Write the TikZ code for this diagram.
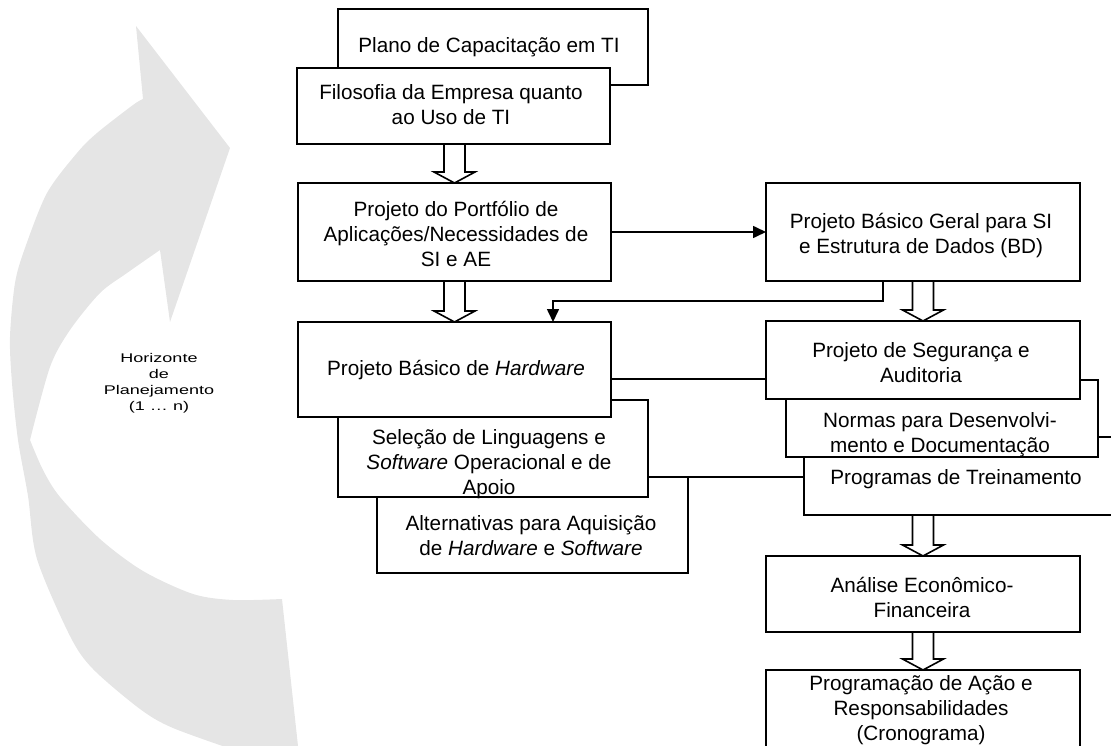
\documentclass[tikz,border=0pt]{standalone}
\usepackage{fontspec}
\setmainfont{Liberation Sans}
\usepackage{graphicx}
\usetikzlibrary{arrows.meta,calc,fit}
\definecolor{bandgray}{RGB}{229,229,229}
\tikzset{
  boxst/.style={draw=black, fill=white, line width=1.6pt, inner sep=0pt, outer sep=0pt},
  txt/.style={align=center, inner sep=0pt, font=\fontsize{20.7}{25}\selectfont},
  smalltxt/.style={inner sep=0pt, font=\fontsize{12.6}{16}\selectfont},
  link/.style={draw=black, line width=1.6pt},
  linkarrow/.style={link, -{Triangle[length=13pt,width=12pt]}},
  hollow/.style={draw=black, line width=1.6pt, line join=miter}
}
% open block arrow from the bottom of #1 to the top of #2
\newcommand{\hollowarrow}[2]{%
  \draw[hollow]
    ($(#1.south -| #2.north)+(-10.5,0)$) -- ($(#2.north)+(-10.5,-11)$)
    -- ($(#2.north)+(-20.5,-11)$) -- (#2.north)
    -- ($(#2.north)+(20.5,-11)$) -- ($(#2.north)+(10.5,-11)$)
    -- ($(#1.south -| #2.north)+(10.5,0)$);}
\begin{document}
\begin{tikzpicture}[x=1pt,y=-1pt]
\useasboundingbox (0,0) rectangle (1111,746);
\clip (0,0) rectangle (1111,746);

% curved planning-horizon arrow
\fill[bandgray] (136,26) -- (230,148) -- (170,322) -- (160,250)
  -- plot[smooth,tension=0.5] coordinates {(160,250) (127,273) (100,293) (70,330) (50,367) (30,440)}
  -- plot[smooth,tension=0.5] coordinates {(30,440) (43,470) (60,497) (100,539) (143,571) (193,594) (233,600) (282,599)}
  -- (298,746) -- (300,775) -- (240,775)
  -- plot[smooth,tension=0.5] coordinates {(240,752) (173,728) (140,709) (93,669) (70,636) (37,559) (28,496) (18,440) (12,383) (10,337) (15,283) (25,248) (47,193) (77,153) (97,133) (133,105) (143,99)}
  -- cycle;
\node[smalltxt] (horiz) at (159,383)
  {\scalebox{1.43}[1]{\begin{tabular}{@{}c@{}}Horizonte\\de\\Planejamento\\(1 … n)\end{tabular}}};

% left column
\node[boxst, fit={(338,9) (648,85)}] (b1) {};
\node[txt] (t1) at (489,47) {Plano de Capacitação em TI};
\node[boxst, fit={(297,68) (610,144)}] (b2) {};
\node[txt] (t2) at (451,105) {Filosofia da Empresa quanto\\ao Uso de TI};
\node[boxst, fit={(298,183) (611,281)}] (b3) {};
\node[txt] (t3) at (456,234) {Projeto do Portfólio de\\Aplicações/Necessidades de\\SI e AE};

\node[boxst, fit={(377,477) (688,573)}] (ba) {};
\node[txt] (ta) at (531,536) {Alternativas para Aquisição\\de \textit{Hardware} e \textit{Software}};
\node[boxst, fit={(338,400) (648,497)}] (bs) {};
\node[txt] (ts) at (489,464) {Seleção de Linguagens e\\\textit{Software} Operacional e de\\Apoio};
\node[boxst, fit={(298,322) (611,417)}] (b4) {};
\node[txt] (t4) at (456,370) {Projeto Básico de \textit{Hardware}};

% right column
\node[boxst, fit={(766,183) (1080,281)}] (b5) {};
\node[txt] (t5) at (921,236) {Projeto Básico Geral para SI\\e Estrutura de Dados (BD)};

\node[boxst, fit={(804,437) (1140,515)}] (b8) {};
\node[txt] (t8) at (956,479) {Programas de Treinamento};
\node[boxst, fit={(786,380) (1098,457)}] (b7) {};
\node[txt] (t7) at (940,435) {Normas para Desenvolvi-\\mento e Documentação};
\node[boxst, fit={(766,321) (1080,399)}] (b6) {};
\node[txt] (t6) at (921,363) {Projeto de Segurança e\\Auditoria};

\node[boxst, fit={(766,556) (1080,632)}] (b9) {};
\node[txt] (t9) at (922,597) {Análise Econômico-\\Financeira};
\node[boxst, fit={(766,670) (1080,770)}] (b10) {};
\node[txt] (t10) at (921,710) {Programação de Ação e\\Responsabilidades\\(Cronograma)};

% block arrows
\hollowarrow{b2}{b3}
\hollowarrow{b3}{b4}
\hollowarrow{b5}{b6}
\hollowarrow{b8}{b9}
\hollowarrow{b9}{b10}

% connectors
\draw[linkarrow] (b3.east) -- (b5.west);
\draw[linkarrow] ($(b5.south)+(-40,0)$) -- ++(0,20) -| ($(b4.north)+(98.5,0)$);
\coordinate (l1) at ($(b4.east)+(0,9.5)$);
\draw[link] (l1) -- (l1 -| b6.west);
\draw[link] (ba.north east) -- (ba.north east -| b8.west);
\end{tikzpicture}
\end{document}
